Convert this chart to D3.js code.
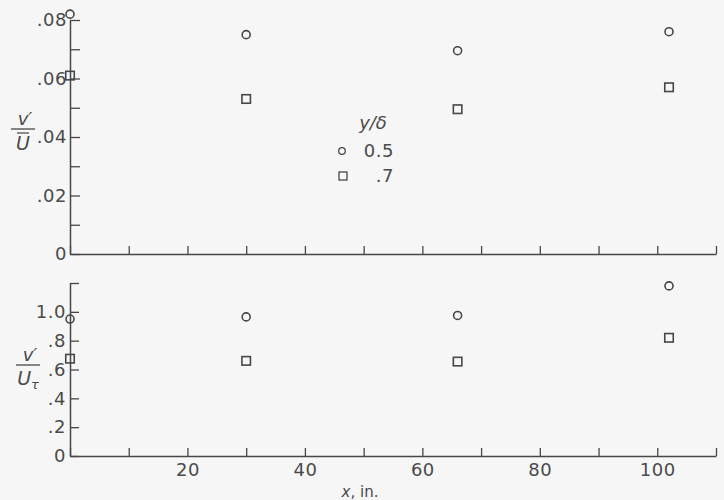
<!DOCTYPE html>
<html>
<head>
<meta charset="utf-8">
<script src="https://cdn.jsdelivr.net/npm/d3@7"></script>
<style>
  html, body { margin: 0; padding: 0; background: #f6f6f6; }
  svg { display: block; }
  text { font-family: "DejaVu Sans", sans-serif; fill: #4a4a4a; }
</style>
</head>
<body>
<svg id="chart" width="724" height="500"></svg>
<script>
// ---- data ----
const xPositions = [0, 30, 66, 102];              // x, in.
const ratioHalf_U = [0.082, 0.075, 0.0695, 0.076]; // v'/U, y/δ = 0.5
const ratioSeven_U = [0.061, 0.053, 0.0495, 0.057];// v'/U, y/δ = .7
const ratioHalf_Ut = [0.95, 0.965, 0.975, 1.18];  // v'/Uτ, y/δ = 0.5
const ratioSeven_Ut = [0.675, 0.66, 0.655, 0.82]; // v'/Uτ, y/δ = .7
const xTicks = [0, 10, 20, 30, 40, 50, 60, 70, 80, 90, 100, 110];
const xTickLabels = ["", "", "20", "", "40", "", "60", "", "80", "", "100", ""];
const topYTicks = [0, 0.01, 0.02, 0.03, 0.04, 0.05, 0.06, 0.07, 0.08];
const topYTickLabels = ["0", "", ".02", "", ".04", "", ".06", "", ".08"];
const botYTicks = [0, 0.2, 0.4, 0.6, 0.8, 1.0, 1.2];
const botYTickLabels = ["0", ".2", ".4", ".6", ".8", "1.0", ""];
const legendTitle = "y/δ";
const legendLabels = ["0.5", ".7"];

const svg = d3.select("#chart");
const ink = "#474747";

const x = d3.scaleLinear().domain([0, 110]).range([70, 716]);
const yTop = d3.scaleLinear().domain([0, 0.08]).range([254, 20]);
const yBot = d3.scaleLinear().domain([0, 1.2]).range([456, 283]);

function styleAxis(g) {
  g.selectAll("path.domain").attr("stroke", ink).attr("stroke-width", 1.5);
  g.selectAll(".tick line").attr("stroke", ink).attr("stroke-width", 1.3);
  g.selectAll(".tick text").attr("font-size", 18).attr("fill", "#4a4a4a")
    .attr("font-family", "DejaVu Sans, sans-serif").style("letter-spacing", "0.5px");
}

// top panel axes
svg.append("g").attr("transform", `translate(0,${yTop(0)})`)
  .call(d3.axisBottom(x).tickValues(xTicks).tickSize(-8).tickSizeOuter(0).tickFormat(""))
  .call(styleAxis);
svg.append("g").attr("transform", `translate(${x(0)},0)`)
  .call(d3.axisLeft(yTop).tickValues(topYTicks).tickSize(-10).tickSizeOuter(0).tickPadding(3)
    .tickFormat((d, i) => topYTickLabels[i]))
  .call(styleAxis);

// bottom panel axes
svg.append("g").attr("transform", `translate(0,${yBot(0)})`)
  .call(d3.axisBottom(x).tickValues(xTicks).tickSize(-8).tickSizeOuter(0).tickPadding(7)
    .tickFormat((d, i) => xTickLabels[i]))
  .call(styleAxis);
svg.append("g").attr("transform", `translate(${x(0)},0)`)
  .call(d3.axisLeft(yBot).tickValues(botYTicks).tickSize(-9).tickSizeOuter(0).tickPadding(4)
    .tickFormat((d, i) => botYTickLabels[i]))
  .call(styleAxis);

// markers
function circles(ys, vals, r) {
  svg.append("g").selectAll("circle").data(vals).join("circle")
    .attr("cx", (d, i) => x(xPositions[i])).attr("cy", d => ys(d)).attr("r", r)
    .attr("fill", "none").attr("stroke", ink).attr("stroke-width", 1.6);
}
function squares(ys, vals, s) {
  svg.append("g").selectAll("rect").data(vals).join("rect")
    .attr("x", (d, i) => x(xPositions[i]) - s / 2).attr("y", d => ys(d) - s / 2)
    .attr("width", s).attr("height", s)
    .attr("fill", "none").attr("stroke", ink).attr("stroke-width", 1.6);
}
circles(yTop, ratioHalf_U, 4);
squares(yTop, ratioSeven_U, 8.5);
circles(yBot, ratioHalf_Ut, 4);
squares(yBot, ratioSeven_Ut, 8.5);

// legend
const lg = svg.append("g");
lg.append("text").attr("x", 373).attr("y", 129).attr("text-anchor", "middle")
  .attr("font-size", 18).attr("font-style", "italic").text(legendTitle);
lg.append("circle").attr("cx", 342).attr("cy", 151).attr("r", 3.3)
  .attr("fill", "none").attr("stroke", ink).attr("stroke-width", 1.3);
lg.append("rect").attr("x", 339).attr("y", 172).attr("width", 8).attr("height", 8)
  .attr("fill", "none").attr("stroke", ink).attr("stroke-width", 1.3);
lg.selectAll("text.lab").data(legendLabels).join("text").attr("class", "lab")
  .attr("x", 394).attr("y", (d, i) => 157 + i * 25).attr("text-anchor", "end")
  .attr("font-size", 18).style("letter-spacing", "0.5px").text(d => d);

// y titles
function fracTitle(cx, yNum, yLine, yDen, den, sub, overbar) {
  const g = svg.append("g");
  g.append("text").attr("x", cx + 2).attr("y", yNum).attr("text-anchor", "middle")
    .attr("font-size", 18).attr("font-style", "italic").text("v′");
  g.append("line").attr("x1", cx - 12).attr("x2", cx + 12).attr("y1", yLine).attr("y2", yLine)
    .attr("stroke", ink).attr("stroke-width", 1.3);
  const t = g.append("text").attr("x", cx).attr("y", yDen).attr("text-anchor", "middle")
    .attr("font-size", 19).attr("font-style", "italic");
  t.append("tspan").text(den);
  if (sub) t.append("tspan").attr("font-size", 13).attr("dy", 4).text(sub);
  if (overbar) g.append("line").attr("x1", cx - 6).attr("x2", cx + 6)
    .attr("y1", yLine + 4).attr("y2", yLine + 4).attr("stroke", ink).attr("stroke-width", 1.2);
}
fracTitle(23, 125, 129, 150, "U", null, true);
fracTitle(28, 361, 365, 385, "U", "τ", false);

// x title
const xt = svg.append("text").attr("x", 360).attr("y", 497).attr("text-anchor", "middle")
  .attr("font-size", 15);
xt.append("tspan").attr("font-style", "italic").text("x");
xt.append("tspan").text(", in.");
</script>
</body>
</html>
